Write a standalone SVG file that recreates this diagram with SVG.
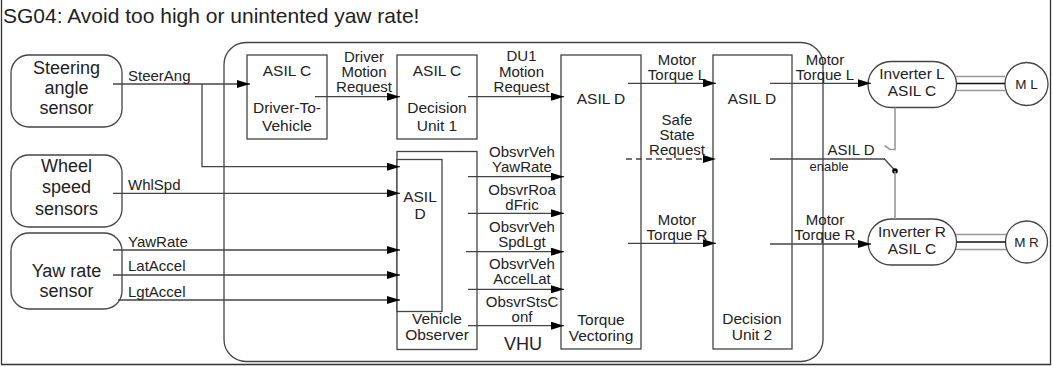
<svg xmlns="http://www.w3.org/2000/svg" width="1053" height="367" viewBox="0 0 1053 367">
<style>
text{font-family:"Liberation Sans",Arial,sans-serif;fill:#222}
.t{font-size:21px}
.s{font-size:18px;text-anchor:middle}
.b{font-size:15.5px;text-anchor:middle}
.l{font-size:15px;text-anchor:middle}
.ls{font-size:15px}
.box{fill:#fff;stroke:#444;stroke-width:1.3}
.c{fill:none;stroke:#444;stroke-width:1.3}
.a{marker-end:url(#ah)}
.g{fill:none;stroke:#999;stroke-width:1.6}
</style>
<defs>
<marker id="ah" markerUnits="userSpaceOnUse" markerWidth="13" markerHeight="8" refX="13" refY="4" orient="auto"><path d="M0,0 L13,4 L0,8 z" fill="#000"/></marker>
</defs>
<rect width="1053" height="367" fill="#fff"/>
<path d="M1.5,0 V364.5 H1050.5 V0" fill="none" stroke="#333" stroke-width="1.3"/>
<text class="t" x="3" y="22.5">SG04: Avoid too high or unintented yaw rate!</text>

<g id="vhu">
<rect class="box" x="224" y="42.5" width="599" height="319" rx="22"/>
<text x="523" y="350" style="font-size:18px;text-anchor:middle">VHU</text>
</g>

<g id="steering-sensor">
<rect class="box" x="11" y="55" width="111" height="72" rx="18"/>
<text class="s" x="66.5" y="74">Steering</text>
<text class="s" x="66.5" y="94">angle</text>
<text class="s" x="66.5" y="113.5">sensor</text>
</g>
<g id="wheel-sensor">
<rect class="box" x="11" y="155" width="111" height="72" rx="18"/>
<text class="s" x="66.5" y="172">Wheel</text>
<text class="s" x="66.5" y="193">speed</text>
<text class="s" x="66.5" y="214.5">sensors</text>
</g>
<g id="yaw-sensor">
<rect class="box" x="11" y="233" width="111" height="76" rx="18"/>
<text class="s" x="66.5" y="277">Yaw rate</text>
<text class="s" x="66.5" y="297">sensor</text>
</g>

<g id="driver-to-vehicle">
<rect class="box" x="247" y="55" width="80" height="84"/>
<text class="b" x="287" y="76">ASIL C</text>
<text class="b" x="287" y="113">Driver-To-</text>
<text class="b" x="287" y="130.5">Vehicle</text>
</g>
<g id="decision-unit-1">
<rect class="box" x="397" y="55" width="80" height="84"/>
<text class="b" x="437" y="76">ASIL C</text>
<text class="b" x="437" y="113">Decision</text>
<text class="b" x="437" y="130.5">Unit 1</text>
</g>
<g id="vehicle-observer">
<rect class="box" x="397" y="151.5" width="80" height="198"/>
<rect class="box" x="397" y="159.5" width="45" height="152"/>
<text class="b" x="420" y="202">ASIL</text>
<text class="b" x="420" y="218.5">D</text>
<text class="b" x="437" y="323.5">Vehicle</text>
<text class="b" x="437" y="340">Observer</text>
</g>
<g id="torque-vectoring">
<rect class="box" x="561" y="55" width="80" height="294"/>
<text class="b" x="601" y="104">ASIL D</text>
<text class="b" x="601" y="325">Torque</text>
<text class="b" x="601" y="341">Vectoring</text>
</g>
<g id="decision-unit-2">
<rect class="box" x="713" y="55" width="79" height="294"/>
<text class="b" x="752" y="104">ASIL D</text>
<text class="b" x="752" y="323.5">Decision</text>
<text class="b" x="752" y="340">Unit 2</text>
</g>
<g id="inverter-l">
<rect class="box" x="868" y="61.5" width="88.5" height="46" rx="23"/>
<text class="b" x="912" y="78.5">Inverter L</text>
<text class="b" x="912" y="96">ASIL C</text>
</g>
<g id="inverter-r">
<rect class="box" x="868" y="219" width="88.5" height="46" rx="23"/>
<text class="b" x="912" y="236.5">Inverter R</text>
<text class="b" x="912" y="253.5">ASIL C</text>
</g>
<g id="motor-l">
<circle class="box" cx="1026.5" cy="84" r="21.5"/>
<text x="1026.5" y="88.5" style="font-size:13.5px;text-anchor:middle">M L</text>
</g>
<g id="motor-r">
<circle class="box" cx="1026.5" cy="242" r="21"/>
<text x="1026.5" y="246.5" style="font-size:13.5px;text-anchor:middle">M R</text>
</g>

<g id="connectors">
<path class="c a" d="M113,84 H250"/>
<path class="c a" d="M202,84 V166.7 H400"/>
<path class="c a" d="M113,193.3 H400"/>
<path class="c a" d="M113,250 H400" stroke="#111"/>
<path class="c a" d="M113,275 H400"/>
<path class="c a" d="M118,300 H400"/>
<path class="c a" d="M315,96.7 H400"/>
<path class="c a" d="M468,96.7 H564"/>
<path class="c a" d="M468,176.7 H564"/>
<path class="c a" d="M468,213.3 H564"/>
<path class="c a" d="M466,251.7 H564"/>
<path class="c a" d="M468,289.3 H564"/>
<path class="c a" d="M468,325.7 H564"/>
<path class="c a" d="M628,83.3 H716"/>
<path class="c a" d="M626,159 H716" stroke-dasharray="6,4"/>
<path class="c a" d="M628,243.3 H716"/>
<path class="c a" d="M770,83.3 H871"/>
<path class="c" d="M770,159 H885"/>
<path class="c a" d="M770,244 H871"/>
<path class="g" d="M895,107.5 V149.5 H890 L884.5,145.5"/>
<path class="c" d="M884,158.5 L895,170.5" stroke="#111"/>
<circle cx="895" cy="171" r="2.8" fill="#000"/>
<path class="g" d="M895,171 V219"/>
<path d="M956,76.5 H1005 M956,90.5 H1005" stroke="#999" stroke-width="1.5" fill="none"/>
<path d="M957,83.5 H1005" stroke="#111" stroke-width="1.3" fill="none"/>
<path d="M956,234.5 H1006 M956,249.5 H1006" stroke="#999" stroke-width="1.5" fill="none"/>
<path d="M957,242 H1006" stroke="#111" stroke-width="1.3" fill="none"/>

<text class="ls" x="128" y="80.5">SteerAng</text>
<text class="ls" x="128" y="189.5">WhlSpd</text>
<text class="ls" x="128" y="246.5">YawRate</text>
<text class="ls" x="128" y="271">LatAccel</text>
<text class="ls" x="128" y="296.5">LgtAccel</text>

<text class="l" x="364" y="61.5">Driver</text>
<text class="l" x="364" y="76.5">Motion</text>
<text class="l" x="364" y="91.5">Request</text>
<text class="l" x="521.5" y="61">DU1</text>
<text class="l" x="521.5" y="76.5">Motion</text>
<text class="l" x="521.5" y="91.5">Request</text>

<text class="l" x="522" y="156.5">ObsvrVeh</text>
<text class="l" x="522" y="171.5">YawRate</text>
<text class="l" x="522" y="194.5">ObsvrRoa</text>
<text class="l" x="522" y="209.5">dFric</text>
<text class="l" x="522" y="232">ObsvrVeh</text>
<text class="l" x="522" y="247">SpdLgt</text>
<text class="l" x="522" y="269">ObsvrVeh</text>
<text class="l" x="522" y="284">AccelLat</text>
<text class="l" x="522" y="306.5">ObsvrStsC</text>
<text class="l" x="522" y="321.5">onf</text>

<text class="l" x="677" y="65">Motor</text>
<text class="l" x="677" y="80">Torque L</text>
<text class="l" x="677" y="125">Safe</text>
<text class="l" x="677" y="140">State</text>
<text class="l" x="677" y="155">Request</text>
<text class="l" x="677" y="225">Motor</text>
<text class="l" x="677" y="240">Torque R</text>

<text class="l" x="825" y="64.5">Motor</text>
<text class="l" x="825" y="79.5">Torque L</text>
<text class="l" x="851" y="155">ASIL D</text>
<text x="829" y="170.5" style="font-size:13px;text-anchor:middle">enable</text>
<text class="l" x="825" y="225">Motor</text>
<text class="l" x="825" y="240">Torque R</text>
</g>
</svg>
